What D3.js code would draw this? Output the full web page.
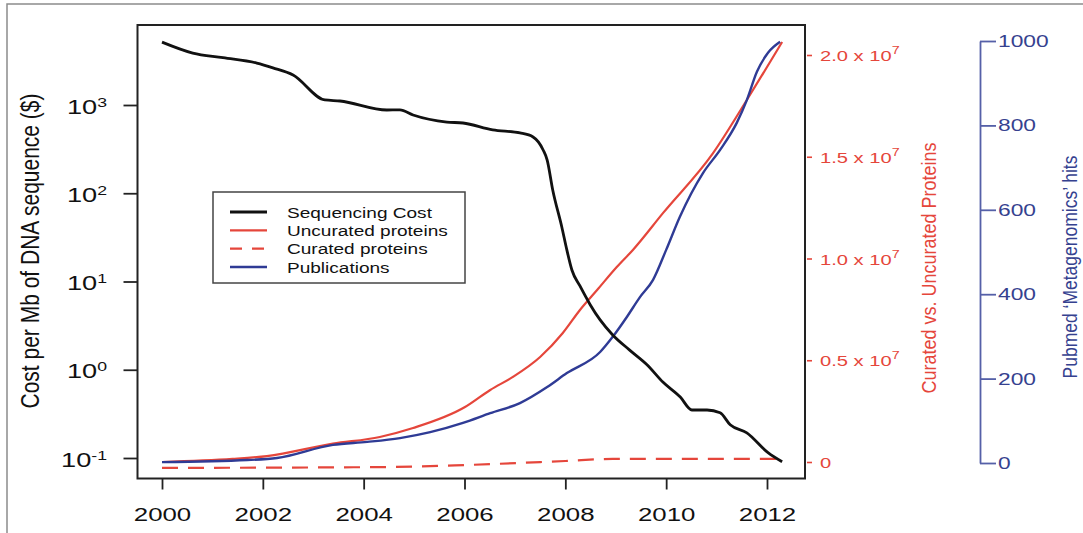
<!DOCTYPE html>
<html>
<head>
<meta charset="utf-8">
<script src="https://cdn.jsdelivr.net/npm/d3@7"></script>
<style>
  body { margin: 0; background: #ffffff; }
  svg { display: block; font-family: "Liberation Sans", Arial, Helvetica, sans-serif; }
</style>
</head>
<body>
<svg id="chart" width="1083" height="533"></svg>
<script>
// ---- data -------------------------------------------------------------
// Sequencing cost per Mb of DNA (US$)
const costYears  = [2000.00, 2000.61, 2001.21, 2001.88, 2002.20, 2002.60, 2003.23, 2003.53, 2004.46, 2004.72,
                    2004.98, 2005.65, 2005.97, 2006.56, 2007.10, 2007.36, 2007.56, 2007.64, 2007.75, 2007.93,
                    2008.03, 2008.13, 2008.29, 2008.49, 2008.69, 2008.94, 2009.27, 2009.62, 2009.94, 2010.28,
                    2010.51, 2010.81, 2011.07, 2011.27, 2011.60, 2012.02, 2012.30];
const costValues = [5160, 3880, 3440, 2990, 2640, 2190, 1140, 1110, 878, 880,
                    771, 641, 625, 521, 482, 434, 309, 238, 109, 41.5,
                    22.8, 13.5, 8.9, 5.5, 3.67, 2.48, 1.68, 1.14, 0.72, 0.49,
                    0.35, 0.35, 0.325, 0.238, 0.193, 0.115, 0.0906];

// Uncurated protein sequences (entries)
const uncuratedYears  = [2000.00, 2001.40, 2002.08, 2003.39, 2004.32, 2004.98, 2006.01, 2006.51, 2006.96, 2007.50,
                         2007.95, 2008.29, 2008.63, 2009.02, 2009.34, 2009.94, 2010.93, 2011.60, 2012.30];
const uncuratedValues = [0, 0.15e6, 0.29e6, 0.90e6, 1.23e6, 1.67e6, 2.70e6, 3.54e6, 4.18e6, 5.16e6,
                         6.34e6, 7.47e6, 8.45e6, 9.58e6, 10.42e6, 12.24e6, 15.18e6, 17.79e6, 20.64e6];

// Curated protein sequences (entries)
const curatedYears  = [2000.00, 2004.32, 2006.00, 2008.00, 2008.94, 2010.00, 2012.30];
const curatedValues = [-0.29e6, -0.25e6, -0.15e6, 0.05e6, 0.15e6, 0.15e6, 0.15e6];

// PubMed hits for 'Metagenomics'
const pubYears  = [2000.00, 2001.69, 2002.28, 2003.39, 2004.07, 2004.72, 2005.32, 2005.97, 2006.51, 2007.10,
                   2007.64, 2008.03, 2008.69, 2008.94, 2009.22, 2009.48, 2009.74, 2010.00, 2010.27, 2010.73,
                   2011.07, 2011.40, 2011.60, 2011.80, 2012.02, 2012.26];
const pubValues = [2, 7, 12, 43, 50, 59, 73, 95, 118, 142,
                   180, 213, 263, 299, 346, 393, 434, 505, 583, 687,
                   742, 806, 860, 927, 972, 998];

// tick values
const yearTicks = [2000, 2002, 2004, 2006, 2008, 2010, 2012];
const costTicks = [0.1, 1, 10, 100, 1000];
const protTicks = [0, 0.5e7, 1.0e7, 1.5e7, 2.0e7];
const pubTicks  = [0, 200, 400, 600, 800, 1000];

// legend entries
const legendLabels = ["Sequencing Cost", "Uncurated proteins", "Curated proteins", "Publications"];

// ---- style --------------------------------------------------------------
const BLACK = "#111111";
const RED = "#e5463b";
const BLUE = "#2f3b95";
const BLUE_AXIS = "#5560a8";
const BLUE_TEXT = "#35418f";
const WIDE = 1.36;           // horizontal text stretch

const svg = d3.select("#chart");

// scales
const x = d3.scaleLinear().domain([2000, 2012]).range([162, 767]);
const yCost = d3.scaleLog().domain([0.1, 1000]).range([458, 105]);
const yProt = d3.scaleLinear().domain([0, 2e7]).range([462, 55]);
const yPub = d3.scaleLinear().domain([0, 1000]).range([463, 41]);

const box = { left: 137.5, top: 25, right: 805, bottom: 478.5 };

// outer frame of the figure
svg.append("path")
  .attr("d", "M7,533V4H1083")
  .attr("fill", "none")
  .attr("stroke", "#8c8c8c")
  .attr("stroke-width", 1.5);

// ---- series ---------------------------------------------------------------
function series(years, values) { return years.map((yr, i) => [yr, values[i]]); }

const lineProt = d3.line().x(d => x(d[0])).y(d => yProt(d[1])).curve(d3.curveMonotoneX);
const linePub = d3.line().x(d => x(d[0])).y(d => yPub(d[1])).curve(d3.curveMonotoneX);
const lineCost = d3.line().x(d => x(d[0])).y(d => yCost(d[1])).curve(d3.curveMonotoneX);

svg.append("path")
  .attr("d", lineProt(series(curatedYears, curatedValues)))
  .attr("fill", "none").attr("stroke", RED).attr("stroke-width", 2.2)
  .attr("stroke-dasharray", "16,10");

svg.append("path")
  .attr("d", lineProt(series(uncuratedYears, uncuratedValues)))
  .attr("fill", "none").attr("stroke", RED).attr("stroke-width", 2.2);

svg.append("path")
  .attr("d", linePub(series(pubYears, pubValues)))
  .attr("fill", "none").attr("stroke", BLUE).attr("stroke-width", 2.4);

svg.append("path")
  .attr("d", lineCost(series(costYears, costValues)))
  .attr("fill", "none").attr("stroke", BLACK).attr("stroke-width", 2.8)
  .attr("stroke-linejoin", "round");

// plot box
svg.append("rect")
  .attr("x", box.left).attr("y", box.top)
  .attr("width", box.right - box.left).attr("height", box.bottom - box.top)
  .attr("fill", "none").attr("stroke", "#222").attr("stroke-width", 2);

// ---- axes ---------------------------------------------------------------
function clearAxisFont(g) { g.attr("font-family", null).attr("font-size", null); }

// bottom: years
const gx = svg.append("g")
  .attr("transform", `translate(0,${box.bottom})`)
  .call(d3.axisBottom(x).tickValues(yearTicks).tickSize(11).tickFormat(d3.format("d")));
clearAxisFont(gx);
gx.select(".domain").remove();
gx.selectAll(".tick line").attr("stroke", "#222").attr("stroke-width", 1.8);
gx.selectAll(".tick text")
  .attr("y", 43).attr("dy", null)
  .attr("font-size", 19).attr("fill", BLACK)
  .attr("transform", `scale(${WIDE},1)`);

// left: sequencing cost, log scale
const gy = svg.append("g")
  .attr("transform", `translate(${box.left},0)`)
  .call(d3.axisLeft(yCost).tickValues(costTicks).tickSize(14).tickFormat(""));
clearAxisFont(gy);
gy.select(".domain").remove();
gy.selectAll(".tick text").remove();
gy.selectAll(".tick line").attr("stroke", "#222").attr("stroke-width", 1.8);

costTicks.forEach(v => {
  const t = svg.append("text")
    .attr("transform", `translate(107,${yCost(v) + 8.5}) scale(${WIDE},1)`)
    .attr("text-anchor", "end").attr("fill", BLACK).attr("font-size", 20);
  t.append("tspan").text("10");
  t.append("tspan").attr("font-size", 13).attr("dy", -7)
    .text(String(Math.round(Math.log10(v))));
});

// right: protein counts (red)
const gr = svg.append("g")
  .attr("transform", `translate(807,0)`)
  .call(d3.axisRight(yProt).tickValues(protTicks).tickSize(5).tickFormat(""));
clearAxisFont(gr);
gr.select(".domain").remove();
gr.selectAll(".tick text").remove();
gr.selectAll(".tick line").attr("stroke", RED).attr("stroke-width", 1.6);

protTicks.forEach(v => {
  const t = svg.append("text")
    .attr("transform", `translate(820,${yProt(v) + 6}) scale(1.3,1)`)
    .attr("fill", RED).attr("font-size", 15.5);
  if (v === 0) {
    t.text("0");
  } else {
    t.append("tspan").text(`${(v / 1e7).toFixed(1)} x 10`);
    t.append("tspan").attr("font-size", 11).attr("dy", -7).text("7");
  }
});

// far right: publications (blue)
const gb = svg.append("g")
  .attr("transform", `translate(980,0)`)
  .call(d3.axisRight(yPub).tickValues(pubTicks).tickSize(16).tickSizeOuter(0).tickFormat(""));
clearAxisFont(gb);
gb.select(".domain").attr("stroke", BLUE_AXIS).attr("stroke-width", 1.8);
gb.selectAll(".tick text").remove();
gb.selectAll(".tick line").attr("stroke", BLUE_AXIS).attr("stroke-width", 1.8);

pubTicks.forEach(v => {
  svg.append("text")
    .attr("transform", `translate(998,${yPub(v) + 6}) scale(1.38,1)`)
    .attr("fill", BLUE_TEXT).attr("font-size", 16.5)
    .text(v);
});

// ---- axis titles -----------------------------------------------------------
function vTitle(text, bx, cy, size, sx, color) {
  svg.append("text")
    .attr("transform", `translate(${bx},${cy}) scale(${sx},1) rotate(-90)`)
    .attr("text-anchor", "middle").attr("fill", color).attr("font-size", size)
    .text(text);
}
vTitle("Cost per Mb of DNA sequence ($)", 39, 251, 21, 1.2, BLACK);
vTitle("Curated vs. Uncurated Proteins", 936, 268, 18, 1.15, RED);
vTitle("Pubmed \u2018Metagenomics\u2019 hits", 1077, 267, 17.5, 1.12, BLUE_TEXT);

// ---- legend ---------------------------------------------------------------
const legend = svg.append("g");
legend.append("rect")
  .attr("x", 213).attr("y", 192).attr("width", 252).attr("height", 91)
  .attr("fill", "#fff").attr("stroke", "#444").attr("stroke-width", 1.5);

const legendStyles = [
  { color: BLACK, dash: null, width: 2.8 },
  { color: RED, dash: null, width: 2.2 },
  { color: RED, dash: "12,10", width: 2.2 },
  { color: BLUE, dash: null, width: 2.4 }
];
const rowY = d3.scalePoint().domain(legendLabels).range([212, 267]);

legendLabels.forEach((label, i) => {
  const yy = rowY(label);
  const st = legendStyles[i];
  legend.append("line")
    .attr("x1", 230).attr("x2", 267).attr("y1", yy).attr("y2", yy)
    .attr("stroke", st.color).attr("stroke-width", st.width)
    .attr("stroke-dasharray", st.dash);
  legend.append("text")
    .attr("transform", `translate(287,${yy + 5.5}) scale(1.27,1)`)
    .attr("font-size", 15).attr("fill", BLACK)
    .text(label);
});
</script>
</body>
</html>
